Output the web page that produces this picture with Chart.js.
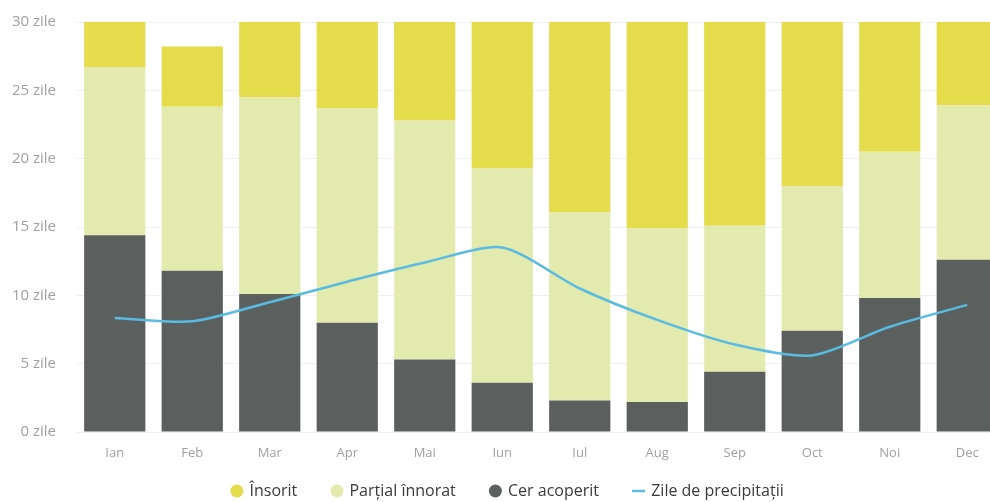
<!DOCTYPE html>
<html>
<head>
<meta charset="utf-8">
<script src="https://cdn.jsdelivr.net/npm/chart.js@4/dist/chart.umd.min.js"></script>
<style>
  html, body { margin: 0; padding: 0; background: #fff; overflow: hidden; }
  canvas { display: block; margin-top: -7px; }
</style>
</head>
<body>
<canvas id="weatherChart" width="1010" height="536"></canvas>
<script>
// Months (Romanian)
const months = ['Ian', 'Feb', 'Mar', 'Apr', 'Mai', 'Iun', 'Iul', 'Aug', 'Sep', 'Oct', 'Noi', 'Dec'];

// Days per month by sky type
const cerAcoperit = [14.4, 11.8, 10.1, 8.0, 5.3, 3.6, 2.3, 2.2, 4.4, 7.4, 9.8, 12.6];
const partialInnorat = [12.3, 12.0, 14.4, 15.7, 17.5, 15.7, 13.8, 12.7, 10.7, 10.6, 10.7, 11.3];
const insorit = [4.3, 4.4, 6.5, 6.3, 8.2, 10.7, 14.9, 16.1, 14.9, 13.0, 9.5, 7.1];

// Precipitation days
const zilePrecipitatii = [8.35, 8.1, 9.5, 11.0, 12.4, 13.5, 10.5, 8.2, 6.4, 5.6, 7.7, 9.3];

// Y axis ticks
const yTicks = [0, 5, 10, 15, 20, 25, 30];

// legend shows Însorit, Parțial, Cer, Zile
const legendRank = [2, 1, 0, 3];

// pull the legend up a bit closer to the axis labels
const legendNudge = {
  id: 'legendNudge',
  afterLayout(chart) {
    const lg = chart.legend;
    lg.top -= 20; lg.bottom -= 20;
    lg.left += 5; lg.right += 5;
  }
};

const ctx = document.getElementById('weatherChart').getContext('2d');
new Chart(ctx, {
  type: 'bar',
  data: {
    labels: months,
    datasets: [
      {
        label: 'Cer acoperit',
        data: cerAcoperit,
        backgroundColor: '#5b605e',
        pointStyle: 'circle',
        order: 1
      },
      {
        label: 'Parțial înnorat',
        data: partialInnorat,
        backgroundColor: '#e3eaae',
        pointStyle: 'circle',
        order: 1
      },
      {
        label: 'Însorit',
        data: insorit,
        backgroundColor: '#e5dc4c',
        pointStyle: 'circle',
        order: 1
      },
      {
        type: 'line',
        label: 'Zile de precipitații',
        data: zilePrecipitatii,
        borderColor: '#59bbe2',
        backgroundColor: '#59bbe2',
        borderWidth: 2.5,
        pointRadius: 0,
        tension: 0.25,
        stack: 'precip',
        pointStyle: 'line',
        order: 0
      }
    ]
  },
  options: {
    responsive: false,
    animation: false,
    barPercentage: 0.79,
    categoryPercentage: 1,
    layout: { padding: { top: 8, left: 0, right: 4, bottom: 0 } },
    plugins: {
      tooltip: { enabled: false },
      legend: {
        position: 'bottom',
        labels: {
          usePointStyle: true,
          boxWidth: 9.2,
          boxHeight: 9.2,
          padding: 35,
          color: '#3a3a3a',
          font: { family: 'Open Sans', size: 16 },
          sort: (a, b) => legendRank[a.datasetIndex] - legendRank[b.datasetIndex]
        }
      }
    },
    scales: {
      x: {
        stacked: true,
        grid: { display: false },
        border: { display: false },
        ticks: { color: '#a0a0a0', font: { family: 'Open Sans', size: 13 }, padding: 5 },
        afterFit: scale => { scale.height = 36; }
      },
      y: {
        stacked: true,
        min: 0,
        max: 30,
        afterBuildTicks: scale => { scale.ticks = yTicks.map(v => ({ value: v })); },
        grid: { color: '#f0f0f0', drawTicks: false },
        border: { display: false },
        ticks: {
          color: '#a0a0a0',
          font: { family: 'Open Sans', size: 15 },
          padding: 20,
          callback: v => v + ' zile'
        },
        afterFit: scale => { scale.width = 76; }
      }
    }
  },
  plugins: [legendNudge]
});
</script>
</body>
</html>
